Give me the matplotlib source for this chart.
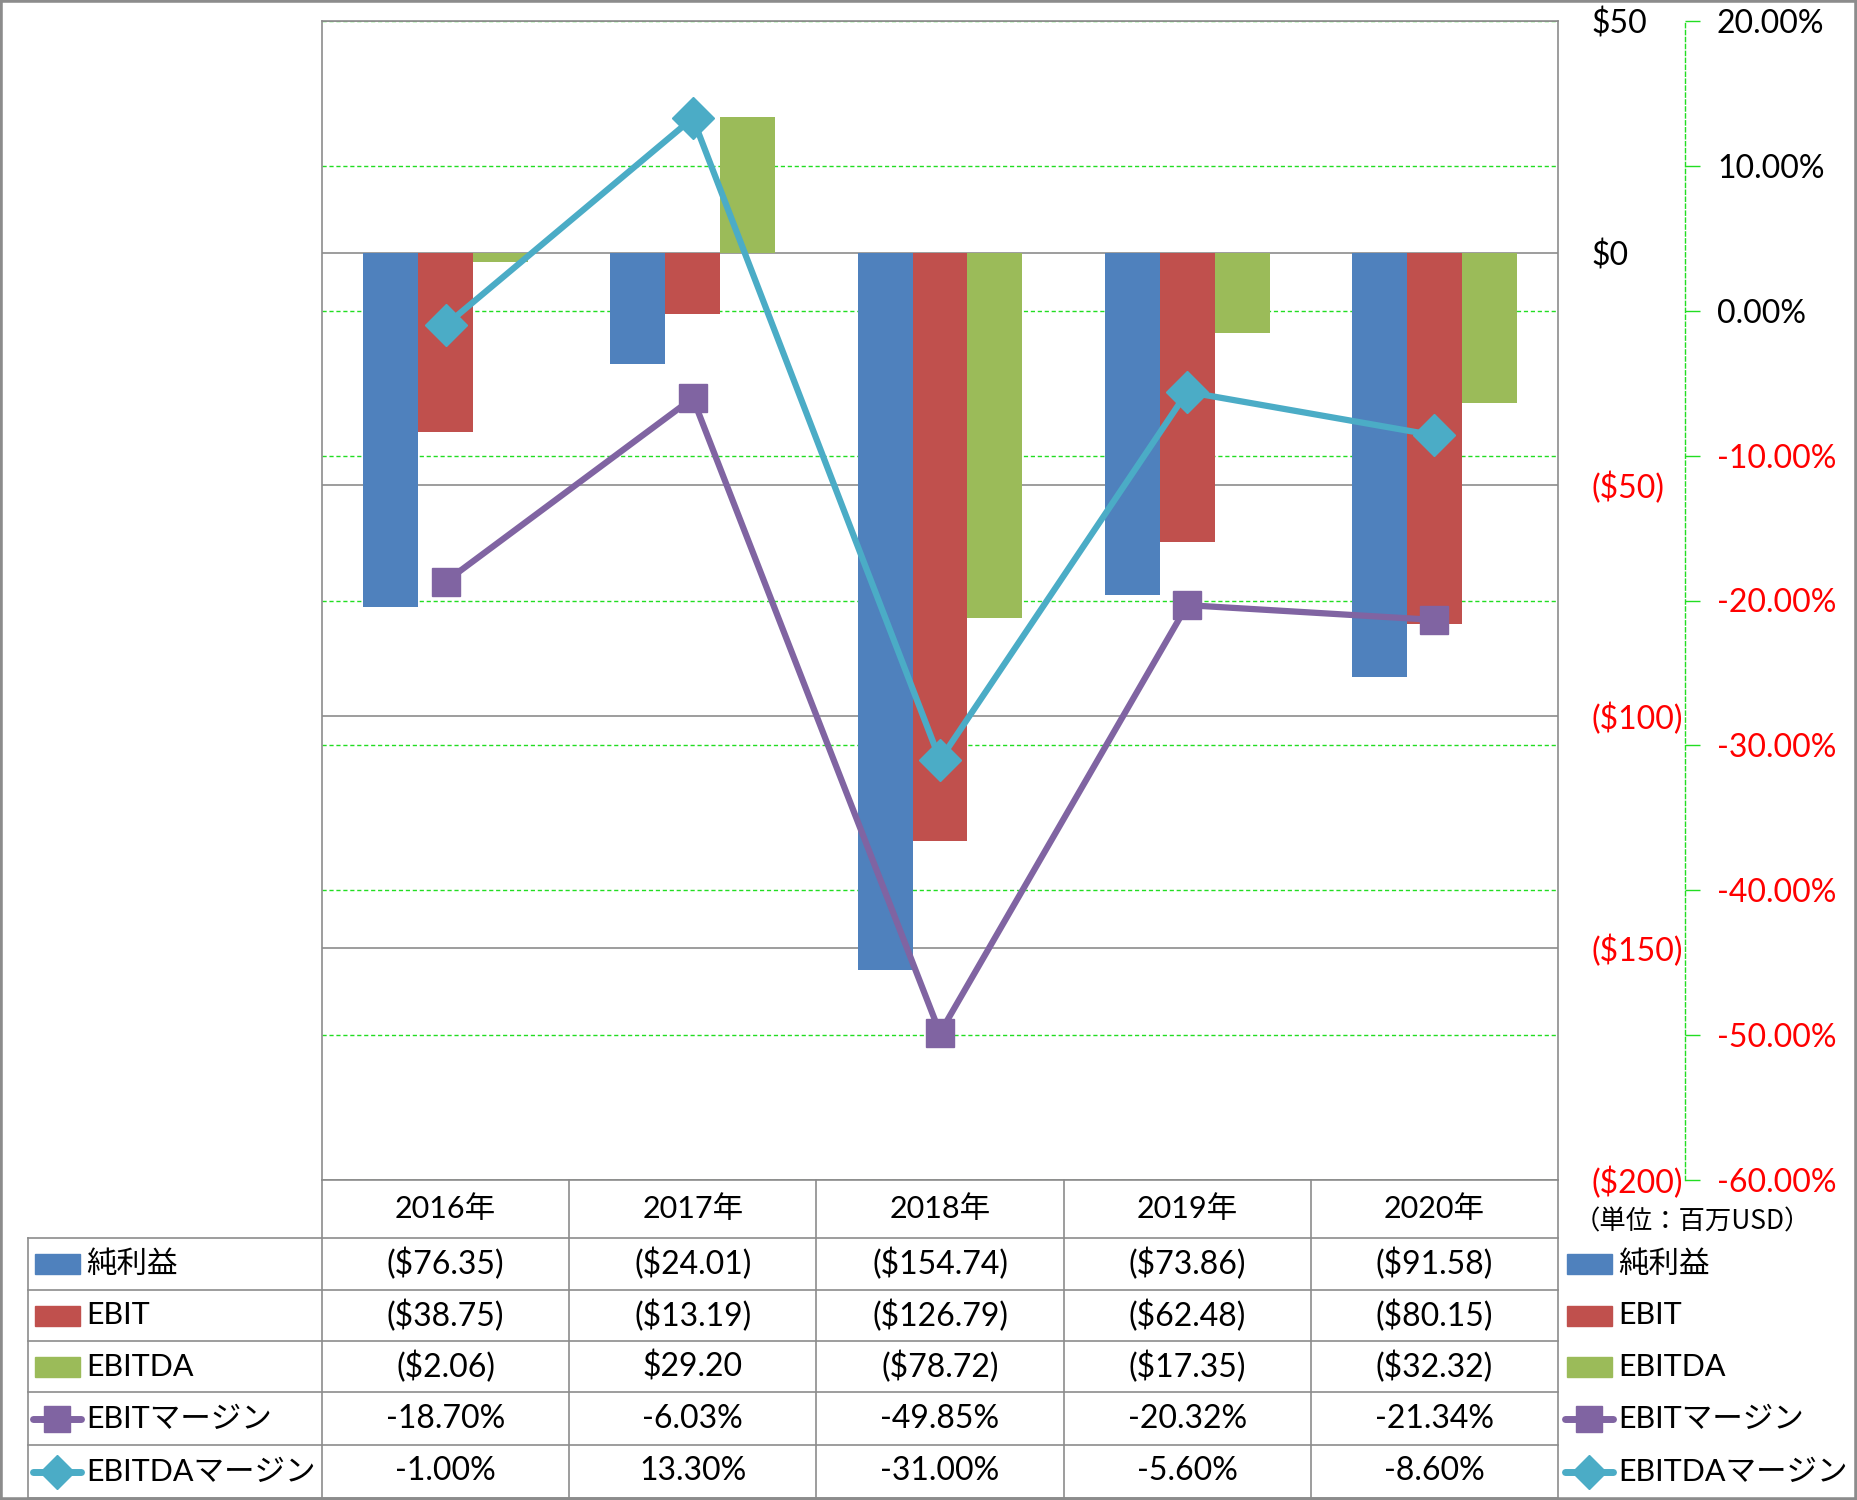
import numpy as np
import matplotlib.pyplot as plt
from matplotlib.lines import Line2D
from matplotlib.patches import Rectangle

plt.rcParams['font.family'] = ['Lato', 'Noto Sans CJK JP', 'DejaVu Sans']

# ---- data (百万USD / %) ----
years = ['2016年', '2017年', '2018年', '2019年', '2020年']
net_income = [-76.35, -24.01, -154.74, -73.86, -91.58]
ebit = [-38.75, -13.19, -126.79, -62.48, -80.15]
ebitda = [-2.06, 29.20, -78.72, -17.35, -32.32]
ebit_margin = [-18.70, -6.03, -49.85, -20.32, -21.34]
ebitda_margin = [-1.00, 13.30, -31.00, -5.60, -8.60]

money_ticks = [-200, -150, -100, -50, 0, 50]
pct_ticks = [-60, -50, -40, -30, -20, -10, 0, 10, 20]

BLUE, RED, GREEN = '#4F81BD', '#C0504D', '#9BBB59'
PURPLE, CYAN = '#8064A2', '#4BACC6'
GRID_GREEN = '#22DD22'
FRAME = '#8C8C8C'

W, H = 1857, 1500
fig = plt.figure(figsize=(W / 100, H / 100), dpi=100)


def fx(x):
    return x / W


def fy(y):
    return 1 - y / H


def fmt_money(v, dec=2):
    s = f'{abs(v):.{dec}f}'
    return f'(${s})' if v < 0 else f'${s}'


# plot area in pixels
L, R, T, B = 322, 1558, 21, 1180
rect = [fx(L), fy(B), (R - L) / W, (B - T) / H]

ax_bg = fig.add_axes(rect)
ax = fig.add_axes(rect)
ax2 = ax.twinx()
ax_bg.set_zorder(0)
ax.set_zorder(1)
ax2.set_zorder(2)
ax.patch.set_visible(False)

x = np.arange(len(years))

# green dashed grid of the % axis, behind everything
ax_bg.set_xlim(-0.5, len(years) - 0.5)
ax_bg.set_ylim(-60, 20)
ax_bg.set_yticks(pct_ticks)
ax_bg.grid(axis='y', color=GRID_GREEN, linestyle=(0, (3, 2)), linewidth=1)
ax_bg.tick_params(left=False, bottom=False, labelleft=False, labelbottom=False)
for sp in ax_bg.spines.values():
    sp.set_visible(False)

# bars
w = 0.222
ax.bar(x - w, net_income, w, color=BLUE, label='純利益')
ax.bar(x, ebit, w, color=RED, label='EBIT')
ax.bar(x + w, ebitda, w, color=GREEN, label='EBITDA')
ax.set_xlim(-0.5, len(years) - 0.5)
ax.set_ylim(-200, 50)
ax.set_axisbelow(True)
ax.grid(axis='y', color=FRAME, linewidth=1.2)
ax.set_xticks([])
ax.yaxis.tick_right()
ax.set_yticks(money_ticks, [fmt_money(v, 0) for v in money_ticks])
ax.tick_params(axis='y', length=0, pad=24, labelsize=23)
for sp in ax.spines.values():
    sp.set_color(FRAME)
    sp.set_linewidth(1.2)

# margin lines
ax2.plot(x, ebit_margin, color=PURPLE, lw=4.5, marker='s', ms=20)
ax2.plot(x, ebitda_margin, color=CYAN, lw=4.5, marker='D', ms=21)
ax2.set_ylim(-60, 20)
ax2.set_yticks(pct_ticks, [f'{v:.2f}%' for v in pct_ticks])
ax2.tick_params(axis='y', color=GRID_GREEN, length=11, width=1, pad=12,
                labelsize=23)
for name in ['left', 'top', 'bottom']:
    ax2.spines[name].set_visible(False)
ax2.spines['right'].set_position(('axes', (1685 - L) / (R - L)))
ax2.spines['right'].set_color(GRID_GREEN)
ax2.spines['right'].set_linestyle((0, (3, 2)))
ax2.spines['right'].set_linewidth(1)

# negative tick labels in red
for axis, ticks in [(ax.yaxis, money_ticks), (ax2.yaxis, pct_ticks)]:
    for tick, v in zip(axis.get_major_ticks(), ticks):
        c = 'red' if v < 0 else 'black'
        tick.label1.set_color(c)
        tick.label2.set_color(c)

# ---- data table under the chart ----
row_y = [1180, 1238, 1290, 1341, 1392, 1445, 1498]
col_x = np.linspace(L, R, len(years) + 1)
lab_left = 28


def hline(x0, x1, y):
    fig.add_artist(Line2D([fx(x0), fx(x1)], [fy(y), fy(y)], color=FRAME, lw=1.2))


def vline(xp, y0, y1):
    fig.add_artist(Line2D([fx(xp), fx(xp)], [fy(y0), fy(y1)], color=FRAME, lw=1.2))


for y in row_y[1:]:
    hline(lab_left, R, y)
vline(lab_left, row_y[1], row_y[-1])
for xp in col_x:
    vline(xp, row_y[0], row_y[-1])

for i, yr in enumerate(years):
    cx = (col_x[i] + col_x[i + 1]) / 2
    fig.text(fx(cx), fy((row_y[0] + row_y[1]) / 2), yr, ha='center', va='center',
             fontsize=22)

series = [
    ('純利益', BLUE, None, [fmt_money(v) for v in net_income]),
    ('EBIT', RED, None, [fmt_money(v) for v in ebit]),
    ('EBITDA', GREEN, None, [fmt_money(v) for v in ebitda]),
    ('EBITマージン', PURPLE, 's', [f'{v:.2f}%' for v in ebit_margin]),
    ('EBITDAマージン', CYAN, 'D', [f'{v:.2f}%' for v in ebitda_margin]),
]


def legend_key(x0, cy, color, marker):
    if marker is None:
        fig.add_artist(Rectangle((fx(x0), fy(cy + 10)), 45 / W, 20 / H,
                                 color=color, transform=fig.transFigure))
    else:
        fig.add_artist(Line2D([fx(x0 - 2), fx(x0 + 46)], [fy(cy), fy(cy)],
                              color=color, lw=5, solid_capstyle='round'))
        fig.add_artist(Line2D([fx(x0 + 22)], [fy(cy)], color=color,
                              marker=marker, ms=19 if marker == 's' else 17))


for r, (name, color, marker, vals) in enumerate(series):
    cy = (row_y[r + 1] + row_y[r + 2]) / 2
    legend_key(35, cy, color, marker)
    fig.text(fx(86), fy(cy), name, ha='left', va='center', fontsize=22)
    for i, s in enumerate(vals):
        cx = (col_x[i] + col_x[i + 1]) / 2
        fig.text(fx(cx), fy(cy), s, ha='center', va='center', fontsize=23)
    # right-hand legend
    legend_key(1567, cy, color, marker)
    fig.text(fx(1618), fy(cy), name, ha='left', va='center', fontsize=22)

fig.text(fx(1692), fy(1222), '（単位：百万USD）', ha='center', va='center',
         fontsize=19, family=['Noto Sans CJK JP', 'DejaVu Sans'])

# outer frame
fig.add_artist(Rectangle((0, 0), 1, 1, transform=fig.transFigure, fill=False,
                         edgecolor=FRAME, lw=4))

fig.savefig('out.png', dpi=100)
